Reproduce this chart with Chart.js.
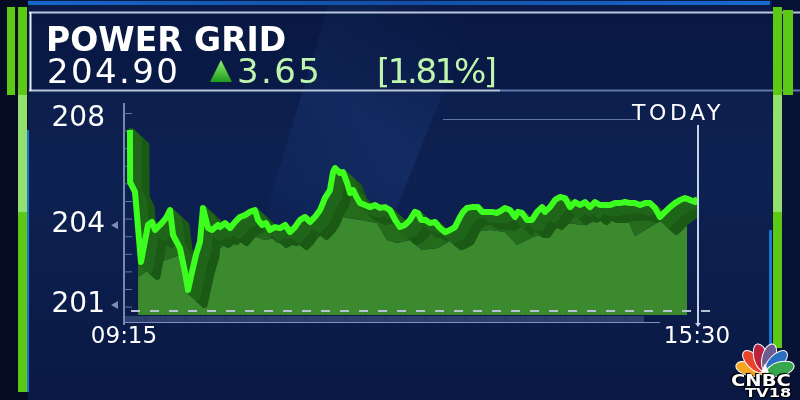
<!DOCTYPE html>
<html><head><meta charset="utf-8">
<script src="https://cdn.jsdelivr.net/npm/chart.js@4.4.1/dist/chart.umd.min.js"></script>
<style>
html,body{margin:0;padding:0;background:#030a1f;}
#wrap{position:relative;width:800px;height:400px;overflow:hidden;}
#c{position:absolute;left:0;top:0;}
.t{position:absolute;font-family:'DejaVu Sans',sans-serif;line-height:1;white-space:nowrap;color:#fff;z-index:2;}
</style></head><body>
<div id="wrap">
<canvas id="c" width="800" height="400"></canvas>
<div class="t" style="left:46px;top:23px;font-size:33px;font-weight:bold;">POWER GRID</div>
<div class="t" style="left:47px;top:54px;font-size:34px;letter-spacing:2.4px;">204.90</div>
<div class="t" style="left:237px;top:54px;font-size:34px;letter-spacing:2.4px;color:#bff5ad;">3.65</div>
<div class="t" style="left:377px;top:54px;font-size:34px;letter-spacing:-2.4px;color:#bff5ad;">[1.81%]</div>
<div class="t" style="left:632px;top:102px;font-size:22px;letter-spacing:3.6px;">TODAY</div>
<div class="t" style="left:731px;top:374px;font-size:15px;font-weight:bold;transform:scaleX(1.3);transform-origin:left top;text-shadow:0 0 2px #000,1px 1px 0 #000,-1px -1px 0 #000;">CNBC</div>
<div class="t" style="left:745px;top:386px;font-size:13px;font-weight:bold;transform:scaleX(1.25);transform-origin:left top;text-shadow:0 0 2px #000,1px 1px 0 #000,-1px -1px 0 #000;">TV18</div>
</div>
<script>
// ---- data ----
const priceMinutes = [3.9, 4.0, 7.2, 11.1, 15.7, 18.3, 20.3, 23.6, 27.5, 30.1,
  32.1, 36.6, 39.9, 41.9, 44.5, 47.1, 49.7, 51.7, 55.0, 57.6,
  61.5, 62.8, 66.1, 69.4, 72.6, 75.9, 79.2, 82.5, 85.7, 87.7,
  90.3, 92.9, 95.5, 98.8, 102.1, 105.4, 108.6, 111.9, 115.2, 118.5,
  121.7, 125.0, 128.3, 131.5, 134.8, 136.8, 138.1, 141.4, 143.3, 146.0,
  147.9, 149.9, 152.5, 154.5, 157.7, 161.0, 164.3, 167.5, 170.8, 174.1,
  177.4, 180.6, 183.9, 187.2, 190.4, 192.4, 194.4, 197.0, 200.3, 203.5,
  206.8, 210.1, 213.4, 216.6, 219.9, 221.9, 224.5, 227.7, 231.7, 234.3,
  237.6, 240.8, 244.1, 247.4, 249.3, 252.6, 255.9, 257.9, 260.5, 263.7,
  267.0, 270.3, 273.6, 275.5, 278.8, 282.1, 285.3, 288.6, 291.9, 295.2,
  298.4, 301.7, 305.0, 308.2, 311.5, 314.8, 318.1, 321.3, 324.6, 327.9,
  331.2, 334.4, 337.7, 341.0, 344.2, 347.5, 350.8, 354.1, 357.3, 360.6,
  363.9, 367.1, 370.4, 373.7, 375.0];
const prices = [207.58, 205.62, 205.25, 202.62, 204.01, 204.12, 203.82, 204.01, 204.27, 204.57,
  203.63, 203.14, 202.24, 201.56, 202.24, 202.88, 203.37, 204.65, 203.89, 203.82,
  204.01, 203.93, 204.08, 203.89, 204.12, 204.31, 204.38, 204.50, 204.57, 204.20,
  204.01, 204.08, 203.82, 203.93, 203.89, 204.01, 203.74, 203.93, 204.20, 204.31,
  204.12, 204.31, 204.57, 205.02, 205.32, 206.00, 206.15, 205.96, 206.00, 205.59,
  205.21, 205.32, 205.02, 204.83, 204.76, 204.68, 204.76, 204.65, 204.68, 204.57,
  204.20, 203.93, 204.01, 204.20, 204.50, 204.46, 204.20, 204.20, 204.08, 204.12,
  203.89, 203.74, 203.82, 203.93, 204.31, 204.50, 204.65, 204.68, 204.68, 204.50,
  204.50, 204.50, 204.46, 204.57, 204.65, 204.57, 204.31, 204.50, 204.46, 204.20,
  204.20, 204.50, 204.68, 204.50, 204.68, 204.95, 205.06, 205.02, 204.68, 204.87,
  204.76, 204.87, 204.68, 204.87, 204.76, 204.76, 204.76, 204.83, 204.83, 204.87,
  204.83, 204.83, 204.76, 204.83, 204.83, 204.65, 204.31, 204.50, 204.68, 204.83,
  204.95, 205.02, 204.95, 204.87, 205.02];
// lower front face of the 3D area
const baseMinutes = [9.2, 23.6, 36.6, 49.7, 59.6, 77.2, 92.3, 108.6, 125.0, 134.8,
  143.3, 154.5, 165.6, 172.1, 178.7, 187.2, 195.0, 205.5, 216.6, 227.7,
  239.5, 249.3, 257.2, 267.7, 278.8, 289.9, 300.4, 311.5, 321.3, 329.8,
  334.4, 341.0, 352.1, 368.5];
const baseValues = [202.05, 202.62, 202.88, 202.88, 202.99, 203.74, 203.44, 203.63, 203.82, 204.27,
  204.31, 204.20, 204.08, 203.44, 203.33, 203.44, 203.07, 203.14, 203.52, 203.74,
  203.82, 203.74, 203.26, 203.56, 203.74, 204.08, 204.01, 204.20, 204.27, 204.20,
  203.59, 203.82, 204.20, 204.68];
const floorLevel = 200.62;
const refLevel = 200.77;
const refMinutes = [4.6, 387];
const yTickValues = [201, 204, 208];
const xTickValues = [0, 375];
const xTickLabels = ['09:15', '15:30'];

const pts = (xs, ys) => xs.map((x, i) => ({x: x, y: ys[i]}));

const bgPlugin = {
  id: 'bg',
  beforeDraw(chart) {
    const ctx = chart.ctx;
    ctx.save();
    ctx.fillStyle = '#040b22'; ctx.fillRect(0, 0, 800, 400);
    let g = ctx.createLinearGradient(0, 0, 0, 400);
    g.addColorStop(0, '#0b1b47'); g.addColorStop(0.45, '#0d2152'); g.addColorStop(1, '#0a1944');
    ctx.fillStyle = g; ctx.fillRect(28, 0, 744, 400);
    ctx.beginPath(); ctx.rect(28, 0, 744, 400); ctx.clip();
    let s = ctx.createLinearGradient(260, 260, 470, 20);
    s.addColorStop(0, 'rgba(50,100,185,0)');
    s.addColorStop(0.55, 'rgba(50,100,185,0.17)');
    s.addColorStop(1, 'rgba(50,100,185,0)');
    ctx.fillStyle = s;
    ctx.beginPath(); ctx.moveTo(330, 0); ctx.lineTo(480, 0); ctx.lineTo(360, 300); ctx.lineTo(240, 300); ctx.closePath(); ctx.fill();
    ctx.restore();
    ctx.save();
    ctx.fillStyle = '#071236'; ctx.fillRect(772, 0, 28, 400);
    let tb = ctx.createLinearGradient(28, 0, 770, 0);
    tb.addColorStop(0, '#1766c8'); tb.addColorStop(0.5, '#124fa6'); tb.addColorStop(1, '#1a6ad0');
    ctx.fillStyle = tb; ctx.fillRect(28, 1, 742, 4);
    ctx.fillStyle = 'rgba(6,20,60,0.35)'; ctx.fillRect(30, 13, 770, 78);
    ctx.strokeStyle = '#b9c6dd'; ctx.lineWidth = 2;
    ctx.beginPath(); ctx.moveTo(29, 12.5); ctx.lineTo(800, 12.5); ctx.stroke();
    ctx.beginPath(); ctx.moveTo(29, 90.5); ctx.lineTo(500, 90.5); ctx.stroke();
    ctx.strokeStyle = '#5f78a8';
    ctx.beginPath(); ctx.moveTo(500, 90.5); ctx.lineTo(800, 90.5); ctx.stroke();
    ctx.strokeStyle = '#e6ecf5';
    ctx.beginPath(); ctx.moveTo(30.5, 12); ctx.lineTo(30.5, 91); ctx.stroke();
    const bar = (x, w, y0, y1, light) => {
      ctx.fillStyle = '#5cc916'; ctx.fillRect(x, y0, w, y1 - y0);
      if (light) { ctx.fillStyle = '#94e06e'; ctx.fillRect(x, 95, w, 117); }
    };
    bar(7, 8, 7, 95, false);
    bar(18, 9, 7, 392, true);
    bar(773, 9, 7, 348, true);
    bar(783, 10, 10, 95, false);
    ctx.fillStyle = '#1a76d2'; ctx.fillRect(27, 130, 2, 262); ctx.fillRect(769, 230, 3, 118);
    let tg = ctx.createLinearGradient(0, 60, 0, 82);
    tg.addColorStop(0, '#8ef06e'); tg.addColorStop(1, '#1f9a1c');
    ctx.fillStyle = tg;
    ctx.beginPath(); ctx.moveTo(221, 60); ctx.lineTo(232, 82); ctx.lineTo(210, 82); ctx.closePath(); ctx.fill();
    ctx.restore();
  },
  beforeDatasetsDraw(chart) {
    const ctx = chart.ctx, a = chart.chartArea;
    ctx.save();
    ctx.strokeStyle = '#9aaccd'; ctx.lineWidth = 1.5;
    ctx.beginPath(); ctx.moveTo(a.left, a.top); ctx.lineTo(a.left, a.bottom + 3); ctx.stroke();
    ctx.strokeStyle = '#5f76a6'; ctx.lineWidth = 1;
    for (let y = 113; y < 310; y += 17.6) { ctx.beginPath(); ctx.moveTo(a.left, y + 0.5); ctx.lineTo(a.left + 8, y + 0.5); ctx.stroke(); }
    ctx.strokeStyle = '#60759f';
    ctx.beginPath(); ctx.moveTo(443, 119.5); ctx.lineTo(636, 119.5); ctx.stroke();
    ctx.fillStyle = 'rgba(110,130,180,0.35)'; ctx.fillRect(a.left, 316, 520, 6);
    ctx.strokeStyle = 'rgba(30,50,100,0.8)';
    for (let x = 145; x < 645; x += 20) { ctx.beginPath(); ctx.moveTo(x + 0.5, 316); ctx.lineTo(x + 0.5, 322); ctx.stroke(); }
    ctx.strokeStyle = '#7d90bb'; ctx.lineWidth = 1;
    ctx.beginPath(); ctx.moveTo(a.left, a.bottom + 0.5); ctx.lineTo(660, a.bottom + 0.5); ctx.stroke();
    ctx.strokeStyle = '#c5d1e4'; ctx.lineWidth = 2;
    ctx.beginPath(); ctx.moveTo(698, 125); ctx.lineTo(698, 324); ctx.stroke();
    ctx.fillStyle = '#c5d1e4';
    ctx.beginPath(); ctx.moveTo(695, 323); ctx.lineTo(701, 323); ctx.lineTo(698, 327); ctx.closePath(); ctx.fill();
    ctx.restore();
  },
  afterDraw(chart) {
    const ctx = chart.ctx, ys = chart.scales.y;
    ctx.save();
    ctx.fillStyle = '#7a8db5';
    [204, 201].forEach(v => {
      const y = ys.getPixelForValue(v);
      ctx.beginPath(); ctx.moveTo(111, y); ctx.lineTo(118, y - 4); ctx.lineTo(118, y + 4); ctx.closePath(); ctx.fill();
    });
    const cx = 765, cy = 373;
    const cols = ['#f5a623', '#e8442c', '#b8223f', '#6d5c8f', '#2a6fc0', '#36a74c'];
    cols.forEach((c, i) => {
      const ang = Math.PI + (i + 0.5) * Math.PI / 6;
      ctx.save();
      ctx.translate(cx + Math.cos(ang) * 16, cy + Math.sin(ang) * 16);
      ctx.rotate(ang);
      ctx.fillStyle = c; ctx.strokeStyle = '#fff'; ctx.lineWidth = 1;
      ctx.beginPath(); ctx.ellipse(0, 0, 14, 7, 0, 0, Math.PI * 2); ctx.fill(); ctx.stroke();
      ctx.restore();
    });
    ctx.fillStyle = '#fff';
    ctx.beginPath(); ctx.moveTo(cx - 4, cy); ctx.lineTo(cx + 4, cy); ctx.lineTo(cx, cy - 10); ctx.closePath(); ctx.fill();
    ctx.restore();
  }
};

const extrudePlugin = {
  id: 'extrude',
  beforeDatasetDraw(chart, args) {
    if (args.index !== 2) return;
    const ctx = chart.ctx, a = chart.chartArea, p = args.meta.data;
    ctx.save();
    ctx.beginPath(); ctx.rect(a.left, a.top, a.right - a.left, a.bottom - a.top); ctx.clip();
    ctx.lineWidth = 6; ctx.lineJoin = 'round'; ctx.lineCap = 'round';
    for (let k = 15; k >= 1; k--) {
      const dx = k * 1.1, dy = k * 1.0;
      ctx.strokeStyle = k > 8 ? '#1b5a15' : '#20661a';
      ctx.beginPath();
      p.forEach((q, i) => i ? ctx.lineTo(q.x + dx, q.y + dy) : ctx.moveTo(q.x + dx, q.y + dy));
      ctx.stroke();
    }
    ctx.restore();
  }
};

new Chart(document.getElementById('c'), {
  type: 'line',
  data: {
    datasets: [
      { label: 'base', data: pts(baseMinutes, baseValues), fill: {value: floorLevel},
        backgroundColor: '#3c8a2e', borderWidth: 0, pointRadius: 0, order: 3 },
      { label: 'prev', data: pts(refMinutes, refMinutes.map(() => refLevel)), fill: false,
        borderColor: '#b7c1d6', borderWidth: 2, borderDash: [9, 10], pointRadius: 0, clip: false, order: 1 },
      { label: 'price', data: pts(priceMinutes, prices), fill: 0,
        backgroundColor: '#246c1c', borderColor: '#3dff1f', borderWidth: 6,
        borderJoinStyle: 'round', pointRadius: 0, order: 0 }
    ]
  },
  options: {
    responsive: false, animation: false,
    layout: { padding: { top: 103, right: 103, left: 0, bottom: 0 } },
    plugins: { legend: { display: false }, tooltip: { enabled: false } },
    scales: {
      x: {
        type: 'linear', min: 0, max: 375,
        grid: { display: false, drawTicks: false }, border: { display: false },
        afterBuildTicks: s => { s.ticks = xTickValues.map(v => ({value: v})); },
        afterFit: s => { s.height = 78; },
        ticks: { autoSkip: false, maxRotation: 0, padding: 1, color: '#ffffff',
          font: { family: 'DejaVu Sans', size: 23 },
          callback: v => xTickLabels[xTickValues.indexOf(v)] }
      },
      y: {
        min: 200.361, max: 208.594,
        grid: { display: false, drawTicks: false }, border: { display: false },
        afterBuildTicks: s => { s.ticks = yTickValues.map(v => ({value: v})); },
        afterFit: s => { s.width = 124; },
        ticks: { padding: 19, color: '#ffffff', font: { family: 'DejaVu Sans', size: 28 },
          callback: v => String(v) }
      }
    }
  },
  plugins: [bgPlugin, extrudePlugin]
});
</script>
</body></html>
